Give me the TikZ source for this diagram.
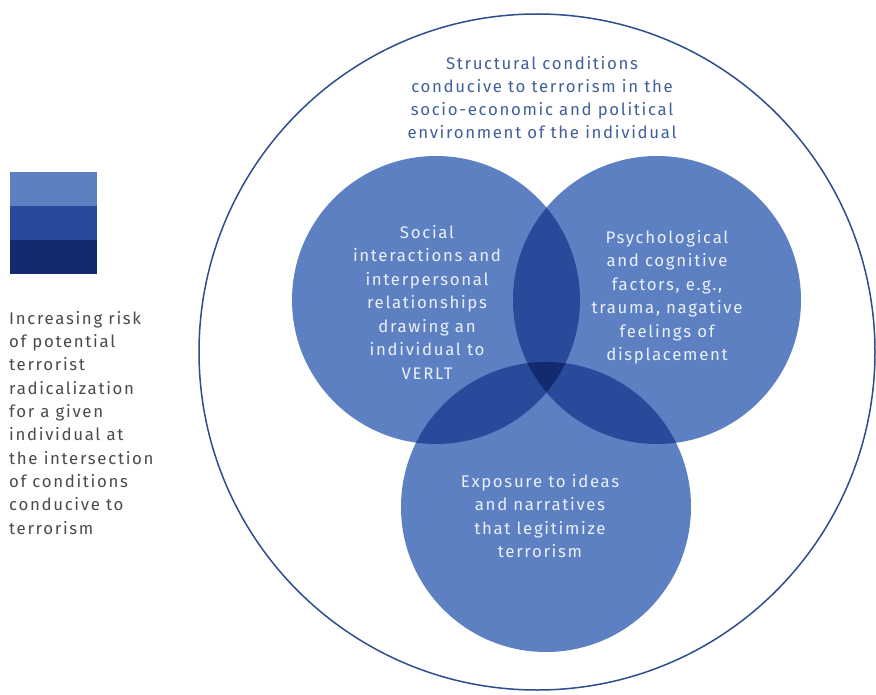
\documentclass[tikz,border=0pt]{standalone}
\usepackage{fontspec}
\setmainfont{Fira Sans}[LetterSpace=10]
\usetikzlibrary{positioning}
\definecolor{venlight}{HTML}{5C80C2}
\definecolor{venmid}{HTML}{29499A}
\definecolor{vendark}{HTML}{142A70}
\definecolor{ringblue}{HTML}{2E4D8C}
\definecolor{captxt}{HTML}{40609A}
\definecolor{legtxt}{HTML}{4A4A4A}
\tikzset{
    vennlabel/.style = {align=center, inner sep=0pt, text=white!88!venlight, font=\fontsize{16.8}{23.5}\selectfont},
    ringlabel/.style = {align=center, inner sep=0pt, text=captxt, font=\fontsize{16.8}{23}\selectfont},
    leglabel/.style = {align=left, inner sep=0pt, text=legtxt, font=\fontsize{16.8}{23.3}\selectfont},
    legbox/.style = {rectangle, inner sep=0pt, minimum width=87pt, minimum height=33.7pt, draw=none},
    vennring/.style = {draw=ringblue, line width=1.5pt},
}

\begin{document}
\begin{tikzpicture}[x=1pt, y=-1pt]
  \useasboundingbox (0,0) rectangle (876,695);
  % centres of the circles
  \coordinate (ring) at (537,352);
  \coordinate (soc) at (436,300);
  \coordinate (psy) at (657,300);
  \coordinate (expo) at (546,507);

  \draw[vennring] (ring) circle[radius=338pt];

  % single sets
  \fill[venlight] (soc) circle[radius=144pt];
  \fill[venlight] (psy) circle[radius=144pt];
  \fill[venlight] (expo) circle[radius=145pt];
  % pairs
  \begin{scope}
    \clip (soc) circle[radius=144pt];
    \fill[venmid] (psy) circle[radius=144pt];
    \fill[venmid] (expo) circle[radius=145pt];
  \end{scope}
  \begin{scope}
    \clip (psy) circle[radius=144pt];
    \fill[venmid] (expo) circle[radius=145pt];
  \end{scope}
  % all three
  \begin{scope}
    \clip (soc) circle[radius=144pt];
    \clip (psy) circle[radius=144pt];
    \fill[vendark] (expo) circle[radius=145pt];
  \end{scope}

  \node[ringlabel] (structural) at (542,98) {Structural conditions\\conducive to terrorism in the\\socio-economic and political\\environment of the individual};
  \node[vennlabel] (social) at (427,302) {Social\\interactions and\\interpersonal\\relationships\\drawing an\\individual to\\VERLT};
  \node[vennlabel] (psycho) at (667,297) {Psychological\\and cognitive\\factors, e.g.,\\trauma, nagative\\feelings of\\displacement};
  \node[vennlabel] (exposure) at (540,516) {Exposure to ideas\\and narratives\\that legitimize\\terrorism};

  % legend
  \node[legbox, fill=venlight, anchor=north west] (risklow) at (10,172) {};
  \node[legbox, fill=venmid, below=0pt of risklow] (riskmid) {};
  \node[legbox, fill=vendark, below=0pt of riskmid] (riskhigh) {};
  \node[leglabel, anchor=north west] (legtext) at (9,311) {Increasing risk\\of potential\\terrorist\\radicalization\\for a given\\individual at\\the intersection\\of conditions\\conducive to\\terrorism};
\end{tikzpicture}
\end{document}
